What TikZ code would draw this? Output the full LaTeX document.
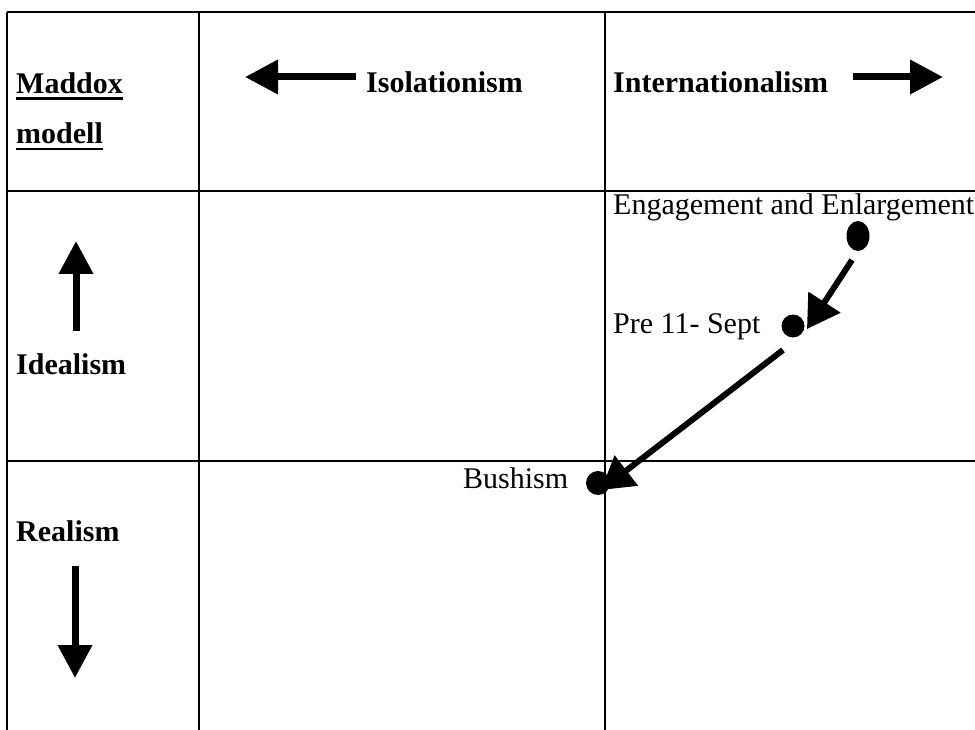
\documentclass[tikz,border=0pt]{standalone}
\usepackage{fontspec}
\setmainfont{Liberation Serif}
\usetikzlibrary{arrows.meta,shapes.geometric}
\tikzset{
  grid/.style={line width=2pt, black},
  lbl/.style={anchor=base west, inner sep=0pt, font=\fontsize{30}{36}\selectfont},
  blbl/.style={lbl, font=\fontsize{30}{36}\selectfont\bfseries},
  bigarrow/.style={line width=7pt, -{Triangle[length=33pt,width=33pt]}},
  diagarrow/.style={line width=6pt, -{Triangle[length=32pt,width=37pt]}},
  dot/.style={circle, fill=black, inner sep=0pt, minimum size=23pt},
  uline/.style={line width=2.8pt}
}
\begin{document}
\begin{tikzpicture}[x=1pt,y=-1pt]
\useasboundingbox (0,0) rectangle (975,730);
% table grid
\draw[grid] (7,12) -- (975,12);
\draw[grid] (7,191) -- (975,191);
\draw[grid] (7,461) -- (975,461);
\draw[grid] (7,12) -- (7,730);
\draw[grid] (199,12) -- (199,730);
\draw[grid] (605,12) -- (605,730);
% header texts
\node[blbl] (mad) at (16,94) {Maddox};
\node[blbl] (mod) at (16,144) {modell};
\draw[uline] ([yshift=-4.5pt]mad.base west) -- ([yshift=-4.5pt]mad.base east);
\draw[uline] ([yshift=-5pt]mod.base west) -- ([yshift=-5pt]mod.base east);
\node[blbl] (iso) at (366,93) {Isolationism};
\node[blbl] (int) at (613,93) {Internationalism};
\node[blbl] (ide) at (16,374) {Idealism};
\node[blbl] (rea) at (16,541) {Realism};
% direction arrows
\coordinate (isoS) at (356,77);
\coordinate (isoE) at (245,77);
\coordinate (intS) at (853,77);
\coordinate (intE) at (943,77);
\coordinate (ideS) at (76,331);
\coordinate (ideE) at (76,241);
\coordinate (reaS) at (75,566);
\coordinate (reaE) at (75,678);
\draw[bigarrow] (isoS) -- (isoE);
\draw[bigarrow] (intS) -- (intE);
\draw[bigarrow] (ideS) -- (ideE);
\draw[bigarrow] (reaS) -- (reaE);
% labels
\node[lbl] (eng) at (613,215) {Engagement and Enlargement};
\node[lbl] (pre) at (613,333) {Pre 11- Sept};
\node[lbl] (bus) at (463,488) {Bushism};
% dots
\node[ellipse, fill=black, inner sep=0pt, minimum width=23pt, minimum height=30pt] (d1) at (858,236) {};
\node[dot, minimum size=23pt] (d2) at (793,326) {};
\node[dot, minimum size=24pt] (d3) at (598,483) {};
% trajectory arrows
\coordinate (a1s) at (852,260);
\coordinate (a1e) at (807,329);
\coordinate (a2s) at (783,350);
\coordinate (a2e) at (601,490);
\draw[diagarrow] (a1s) -- (a1e);
\draw[diagarrow] (a2s) -- (a2e);
\end{tikzpicture}
\end{document}
